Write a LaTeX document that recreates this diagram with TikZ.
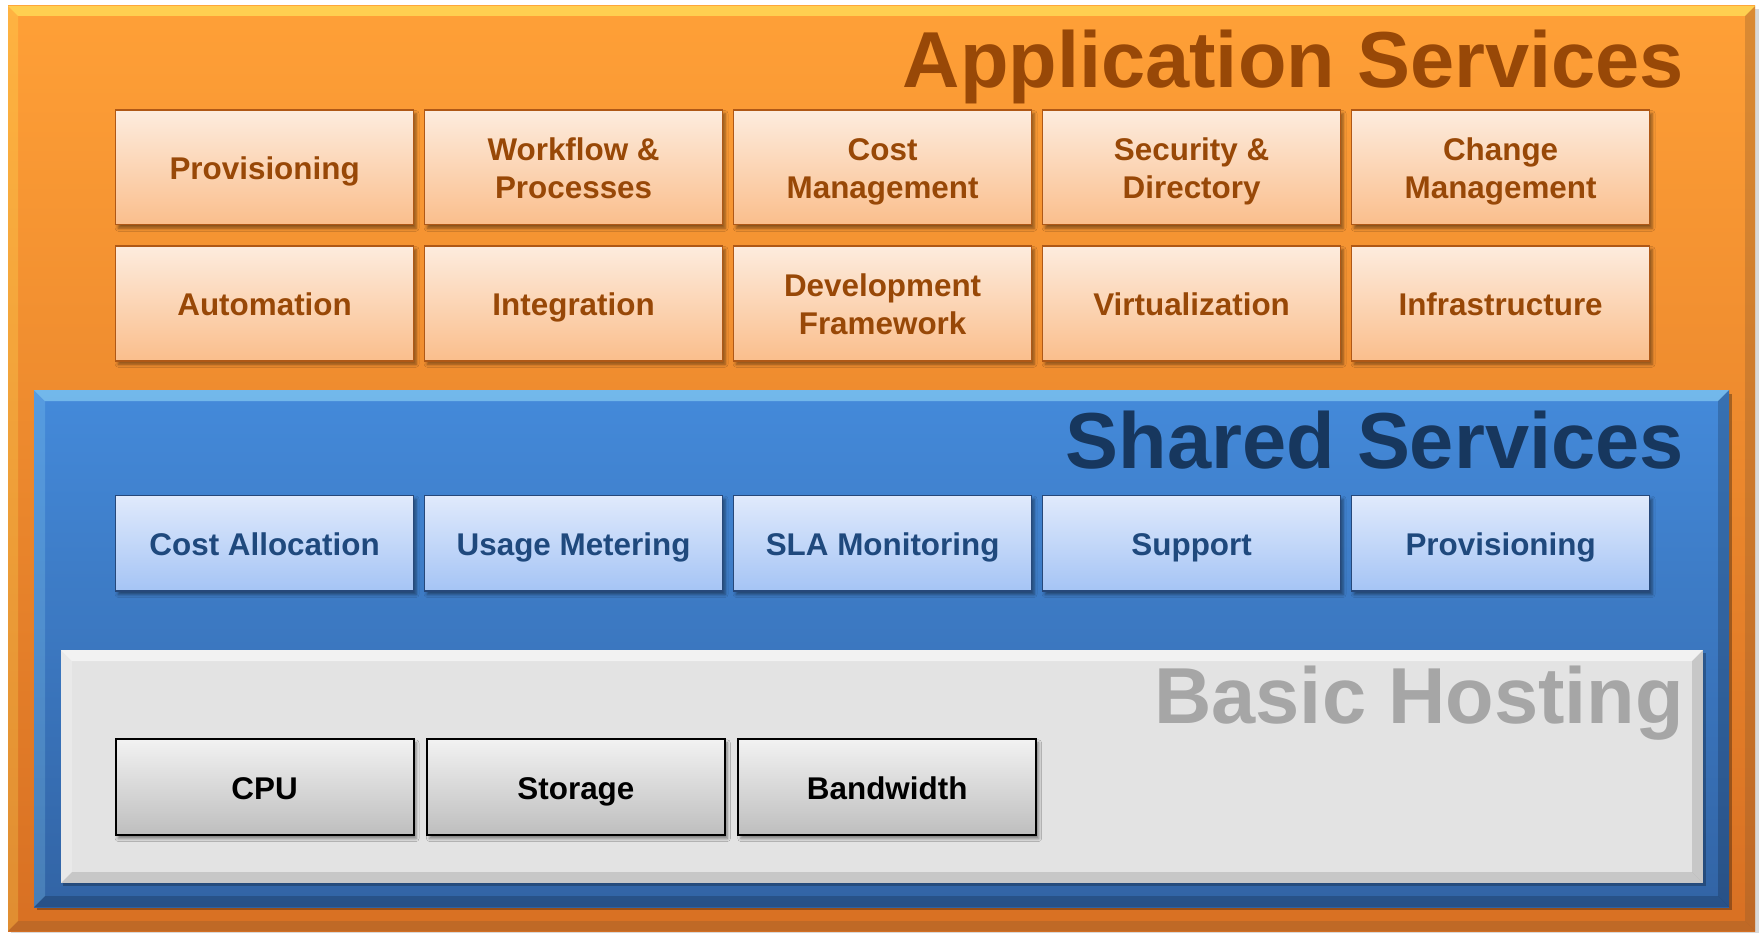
\documentclass[tikz,border=0pt]{standalone}
\usepackage{fontspec}
\setmainfont{Liberation Sans}
\usetikzlibrary{shadows.blur}
\definecolor{oPanTop}{RGB}{255,160,55}
\definecolor{oPanBot}{RGB}{216,112,35}
\definecolor{bPanTop}{RGB}{68,138,218}
\definecolor{bPanBot}{RGB}{50,100,165}
\definecolor{gPan}{RGB}{227,227,227}
\definecolor{oTop}{RGB}{253,236,222}
\definecolor{oBot}{RGB}{250,190,140}
\definecolor{oLine}{RGB}{175,88,22}
\definecolor{oText}{RGB}{152,72,7}
\definecolor{bTop}{RGB}{224,234,252}
\definecolor{bBot}{RGB}{165,196,245}
\definecolor{bLine}{RGB}{38,72,122}
\definecolor{bText}{RGB}{31,73,125}
\definecolor{bTitle}{RGB}{23,55,94}
\definecolor{gTop}{RGB}{242,242,242}
\definecolor{gBot}{RGB}{190,190,190}
\definecolor{gTitle}{RGB}{166,166,166}
\newcommand\bxfont{\fontsize{31.4}{38.2}\selectfont\bfseries}
\newcommand\ttlfont{\fontsize{79.4}{80}\selectfont\bfseries}
\newcommand\twoline[2]{\begin{tabular}[t]{@{}c@{}}#1\\#2\end{tabular}}
% bevel strips: x1,y1,x2,y2,b,light,dark,darkopacity
\newcommand\bevelstrips[8]{%
  \fill[#6,opacity=0.55] (#1,#2) -- (#3,#2) -- (#3-#5,#2+#5) -- (#1+#5,#2+#5) -- cycle;
  \fill[#6,opacity=0.22] (#1,#2) -- (#1+#5,#2+#5) -- (#1+#5,#4-#5) -- (#1,#4) -- cycle;
  \fill[#7,opacity=#8] (#1,#4) -- (#1+#5,#4-#5) -- (#3-#5,#4-#5) -- (#3,#4) -- cycle;
  \fill[#7,opacity=#8] (#3,#2) -- (#3,#4) -- (#3-#5,#4-#5) -- (#3-#5,#2+#5) -- cycle;
}
\begin{document}
\begin{tikzpicture}[x=1pt,y=-1pt,
  basebox/.style={minimum width=297.8pt, inner sep=0pt, font=\bxfont,
    text height=25pt, text depth=0pt,
    blur shadow={shadow xshift=2.5pt, shadow yshift=-3.5pt, shadow blur radius=3pt, shadow opacity=45}},
  two/.style={text height=23.5pt, text depth=37.2pt},
  obox/.style={basebox, draw=oLine, line width=1.5pt, top color=oTop, bottom color=oBot,
    minimum height=114.7pt, text=oText},
  bbox/.style={basebox, draw=bLine, line width=1.5pt, top color=bTop, bottom color=bBot,
    minimum height=95.4pt, text=bText},
  gbox/.style={basebox, draw=black, line width=2pt, top color=gTop, bottom color=gBot,
    minimum height=95.6pt, text=black},
  ttl/.style={anchor=base east, inner sep=0pt, font=\ttlfont}]
\useasboundingbox (0,0) rectangle (1762,933);
\fill[white] (0,0) rectangle (1762,933);
% outer orange panel
\fill[black,opacity=0.15] (11,9) rectangle (1759,933);
\fill[top color=oPanTop, bottom color=oPanBot] (8,6) rectangle (1755,931);
\bevelstrips{8}{6}{1755}{931}{10}{yellow!60!white}{brown!70!black}{0.3}
% blue panel
\fill[black,opacity=0.3] (37,394) rectangle (1732,910);
\fill[top color=bPanTop, bottom color=bPanBot] (34,390) rectangle (1729,907);
\bevelstrips{34}{390}{1729}{907}{11}{cyan!40!white}{black}{0.18}
% gray panel
\fill[black,opacity=0.25] (63,653) rectangle (1706,886);
\fill[gPan] (61,650) rectangle (1703,883);
\bevelstrips{61}{650}{1703}{883}{11}{white}{black}{0.12}
% titles
\node[ttl, text=oText] (tapp) at (1684,87.3) {Application Services};
\node[ttl, text=bTitle] (tsh) at (1684,468) {Shared Services};
\node[ttl, text=gTitle] (tbh) at (1684,723) {Basic Hosting};
% application services boxes
\node[obox] (a1) at (264.6,167.4) {Provisioning};
\node[obox, two] (a2) at (573.6,167.4) {\twoline{Workflow \&}{Processes}};
\node[obox, two] (a3) at (882.6,167.4) {\twoline{Cost}{Management}};
\node[obox, two] (a4) at (1191.6,167.4) {\twoline{Security \&}{Directory}};
\node[obox, two] (a5) at (1500.6,167.4) {\twoline{Change}{Management}};
\node[obox] (a6) at (264.6,303.4) {Automation};
\node[obox] (a7) at (573.6,303.4) {Integration};
\node[obox, two] (a8) at (882.6,303.4) {\twoline{Development}{Framework}};
\node[obox] (a9) at (1191.6,303.4) {Virtualization};
\node[obox] (a10) at (1500.6,303.4) {Infrastructure};
% shared services boxes
\node[bbox] (s1) at (264.6,543.3) {Cost Allocation};
\node[bbox] (s2) at (573.6,543.3) {Usage Metering};
\node[bbox] (s3) at (882.6,543.3) {SLA Monitoring};
\node[bbox] (s4) at (1191.6,543.3) {Support};
\node[bbox] (s5) at (1500.6,543.3) {Provisioning};
% basic hosting boxes
\node[gbox] (h1) at (264.6,787.2) {CPU};
\node[gbox] (h2) at (575.9,787.2) {Storage};
\node[gbox] (h3) at (887.2,787.2) {Bandwidth};
\end{tikzpicture}
\end{document}
